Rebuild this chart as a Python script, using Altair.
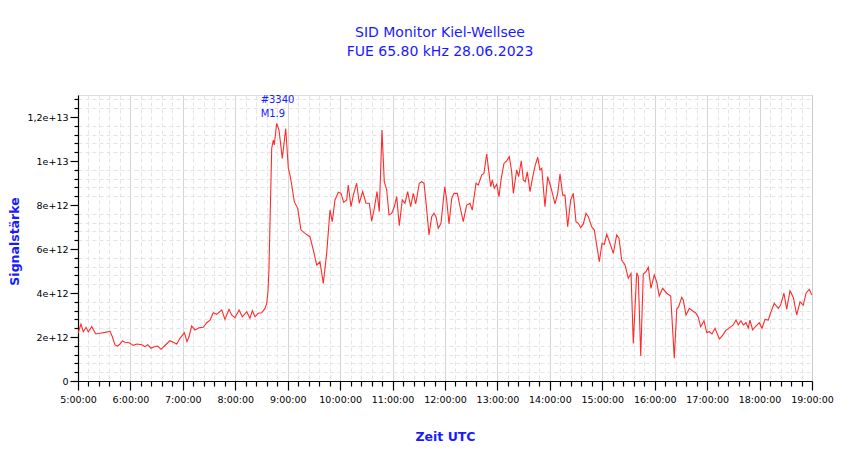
import altair as alt
import pandas as pd

# minutes after 05:00 UTC
minutes = [0, 3.4, 6.1, 9.2, 11.8, 15.7, 20.3, 25.2, 30.9, 36.6, 39.3, 42.3, 45.4, 48.1, 50.7, 53.8,
           58.4, 63.3, 67.2, 72.9, 76.7, 79.8, 83.5, 87.3, 91.2, 95.0, 98.8, 105.3, 110.2, 113.0, 116.7,
           121.7, 124.7, 127.0, 130.1, 133.9, 138.5, 143.4, 147.3, 151.1, 154.8, 158.7, 164.5, 168.2,
           172.8, 175.9, 179.7, 184.3, 188.0, 193.1, 196.8, 199.5, 202.6, 206.3, 210.2, 214.0, 216.0,
           217.4, 218.5, 221.7, 223.5, 224.6, 227.4, 230.0, 233.8, 237.7, 240.7, 242.6, 244.6, 247.5,
           251.4, 255.2, 259.8, 265.5, 269.3, 273.2, 276.9, 280.7, 284.6, 288.4, 291.0, 294.1, 297.9,
           301.0, 304.1, 307.5, 309.3, 312.4, 315.1, 318.9, 321.9, 325.8, 329.6, 333.4, 336.1, 339.1,
           342.2, 344.8, 347.9, 350.5, 353.3, 355.9, 359.0, 362.0, 364.7, 367.7, 371.1, 374.2, 377.3,
           380.7, 383.7, 386.5, 390.6, 393.3, 396.0, 399.1, 401.7, 404.8, 407.4, 409.7, 412.3, 415.4,
           419.7, 421.9, 424.6, 427.7, 430.3, 434.1, 437.2, 440.9, 444.8, 448.6, 451.2, 455.5, 458.1,
           462.0, 464.6, 467.7, 470.4, 472.3, 474.1, 476.4, 479.2, 481.8, 484.1, 487.5, 490.6, 493.6,
           496.3, 498.2, 502.0, 504.3, 507.3, 509.6, 511.9, 514.2, 517.3, 520.4, 523.0, 526.1, 528.7,
           530.7, 534.4, 537.5, 541.0, 545.9, 549.0, 551.6, 554.7, 557.3, 560.4, 563.8, 566.8, 569.9,
           572.6, 575.3, 578.3, 581.4, 584.0, 587.9, 590.9, 593.6, 596.6, 599.7, 602.3, 605.1, 608.8,
           612.6, 616.5, 619.1, 622.2, 626.0, 629.8, 632.9, 635.5, 639.4, 641.2, 644.0, 646.9, 650.0,
           652.7, 655.7, 659.5, 662.3, 665.2, 669.1, 673.7, 678.3, 682.4, 685.2, 687.4, 690.9, 692.7,
           695.8, 699.6, 703.5, 707.2, 709.9, 712.6, 716.4, 719.5, 722.5, 725.5, 729.0, 731.6, 733.9,
           737.3, 741.2, 746.1, 749.9, 753.0, 755.7, 758.7, 761.4, 764.5, 767.1, 769.0, 772.1, 775.9,
           779.7, 782.8, 786.2, 790.0, 792.5, 796.8, 801.4, 804.1, 807.9, 811.0, 814.8, 818.6, 822.5,
           826.3, 830.0, 833.2, 836.9, 839.7]

# signal strength in units of 1e12
signal = [2.17, 2.59, 2.24, 2.44, 2.23, 2.47, 2.14, 2.17, 2.21, 2.26, 2.01, 1.64, 1.59, 1.68, 1.82, 1.76,
          1.74, 1.62, 1.68, 1.65, 1.56, 1.65, 1.49, 1.56, 1.59, 1.44, 1.59, 1.83, 1.74, 1.68, 1.94,
          2.20, 1.79, 2.01, 2.50, 2.32, 2.42, 2.44, 2.65, 2.77, 3.10, 3.03, 3.23, 2.80,
          3.26, 3.00, 2.88, 3.23, 2.92, 3.15, 2.85, 3.20, 2.92, 3.08, 3.10, 3.30, 3.53,
          4.06, 5.05, 10.58, 10.95, 10.73, 11.71, 11.41, 10.12, 11.48, 9.67, 9.36, 8.91, 8.15,
          7.85, 6.86, 6.71, 6.56, 5.95, 5.27, 5.42, 4.44, 5.80, 7.77, 7.24, 8.23, 8.58,
          8.53, 8.12, 8.23, 8.91, 7.92, 8.45, 8.99, 8.08, 8.61, 8.08, 8.08, 7.27, 7.85,
          8.61, 7.70, 11.41, 9.06, 8.68, 7.55, 7.62, 7.92, 8.38, 7.06, 8.23, 8.08, 8.61,
          7.92, 8.53, 8.05, 8.99, 9.06, 8.99, 7.77, 6.64, 7.47, 7.62, 7.47, 6.94, 7.17,
          8.83, 8.23, 7.14, 8.30, 8.53, 8.53, 7.92, 7.24, 8.00, 8.08, 7.77, 8.99, 8.91,
          9.36, 9.44, 10.32, 9.44, 8.83, 9.14, 8.76, 8.94, 8.38, 9.14, 9.89, 10.01, 10.20,
          9.51, 8.53, 9.59, 9.29, 10.01, 9.14, 9.06, 9.51, 8.61, 9.29, 9.77, 10.17, 9.59,
          9.67, 7.92, 9.29, 8.83, 8.05, 8.53, 9.41, 8.45, 8.45, 7.01, 8.23, 8.53, 7.24,
          7.17, 6.97, 7.14, 7.62, 7.47, 7.01, 6.86, 6.18, 5.42, 6.26, 6.21, 6.67, 6.26,
          5.80, 6.64, 6.49, 5.50, 5.27, 4.67, 4.89, 1.71, 4.92, 4.74, 1.14, 4.86, 4.97,
          5.17, 4.21, 4.82, 4.51, 3.86, 4.21, 3.99, 3.86, 1.03, 3.26, 3.38, 3.80, 3.68,
          3.00, 3.30, 3.18, 3.08, 2.89, 2.47, 2.74, 2.20, 2.24, 2.14, 2.40, 2.14, 1.91,
          2.05, 2.29, 2.44, 2.55, 2.77, 2.55, 2.74, 2.55, 2.65, 2.40, 2.77, 2.32, 2.50,
          2.65, 2.40, 2.80, 2.77, 3.08, 3.53, 3.30, 3.45, 3.99, 3.26, 4.10, 3.80, 3.00,
          3.60, 3.45, 3.99, 4.17, 3.91]

# flare annotation
note_labels = ["#3340", "M1.9"]
note_minutes = [209, 209]
note_levels = [12.77, 12.14]

x_ticks = list(range(0, 841, 12))
y_ticks = [round(i * 0.4, 1) for i in range(33)]

df = pd.DataFrame({"t": minutes, "v": signal})
notes = pd.DataFrame({"t": note_minutes, "v": note_levels, "label": note_labels})

FONT = "DejaVu Sans"
BLUE = "#1a1aff"

x_axis = alt.Axis(
    values=x_ticks, tickCount=500,
    labelExpr="datum.value % 60 === 0 ? (5 + datum.value / 60) + ':00:00' : ''",
    labelFont=FONT, labelFontSize=9.5, labelColor="#000000", labelPadding=4,
    labelFlush=False, labelOverlap=False,
    tickSize={"condition": {"test": "datum.value % 60 === 0", "value": 9}, "value": 5},
    tickColor="#000000", domainColor="#000000", domainWidth=1.2, tickWidth=1.2,
    gridDash={"condition": {"test": "datum.value % 60 === 0", "value": [1, 0]}, "value": [4, 3]},
    gridColor={"condition": {"test": "datum.value % 60 === 0", "value": "#c6c6c6"}, "value": "#e4e4e4"},
    title="Zeit UTC", titleFont=FONT, titleFontSize=12.5, titleFontWeight="bold", titleColor=BLUE,
    titleY=55, titleBaseline="middle",
)

y_axis = alt.Axis(
    values=y_ticks, tickCount=500,
    labelExpr=("round(datum.value * 10) % 20 !== 0 ? '' : round(datum.value) === 0 ? '0' : "
               "round(datum.value) < 10 ? round(datum.value) + 'e+12' : "
               "round(datum.value) === 10 ? '1e+13' : '1,' + (round(datum.value) - 10) + 'e+13'"),
    labelFont=FONT, labelFontSize=9.5, labelColor="#000000", labelPadding=2,
    labelOverlap=False,
    tickSize={"condition": {"test": "round(datum.value * 10) % 20 === 0", "value": 8}, "value": 4},
    tickColor="#000000", domainColor="#000000", domainWidth=1.2, tickWidth=1.2,
    gridDash=[4, 3], gridColor="#e4e4e4",
    gridOpacity={"condition": {"test": "round(datum.value * 10) % 20 === 0", "value": 0}, "value": 1},
    title="Signalstärke", titleFont=FONT, titleFontSize=12.5, titleFontWeight="bold", titleColor=BLUE,
    titleX=-64, titleY=146, titleAngle=-90, titleBaseline="middle", titleAlign="center",
)

line = alt.Chart(df).mark_line(color="#ff2b2b", strokeWidth=1.1, clip=True).encode(
    x=alt.X("t:Q", scale=alt.Scale(domain=[0, 840], nice=False, zero=False), axis=x_axis),
    y=alt.Y("v:Q", scale=alt.Scale(domain=[0, 13], nice=False), axis=y_axis),
)

text = alt.Chart(notes).mark_text(align="left", baseline="middle", font=FONT, fontSize=10,
                                  color=BLUE).encode(
    x="t:Q", y="v:Q", text="label:N"
)

chart = alt.layer(line, text).properties(
    width=734, height=286,
    autosize=alt.AutoSizeParams(type="none"),
    padding={"left": 70, "top": 87, "right": 22, "bottom": 70},
    title=alt.TitleParams(
        text=["SID Monitor Kiel-Wellsee", "FUE 65.80 kHz 28.06.2023"],
        font=FONT, fontSize=14, fontWeight="normal", color=BLUE, anchor="middle",
        lineHeight=19, offset=35, dx=-5,
    ),
).configure_view(stroke=None).configure(background="#ffffff")

chart.save("out.html", embed_options={"renderer": "svg", "actions": False})
